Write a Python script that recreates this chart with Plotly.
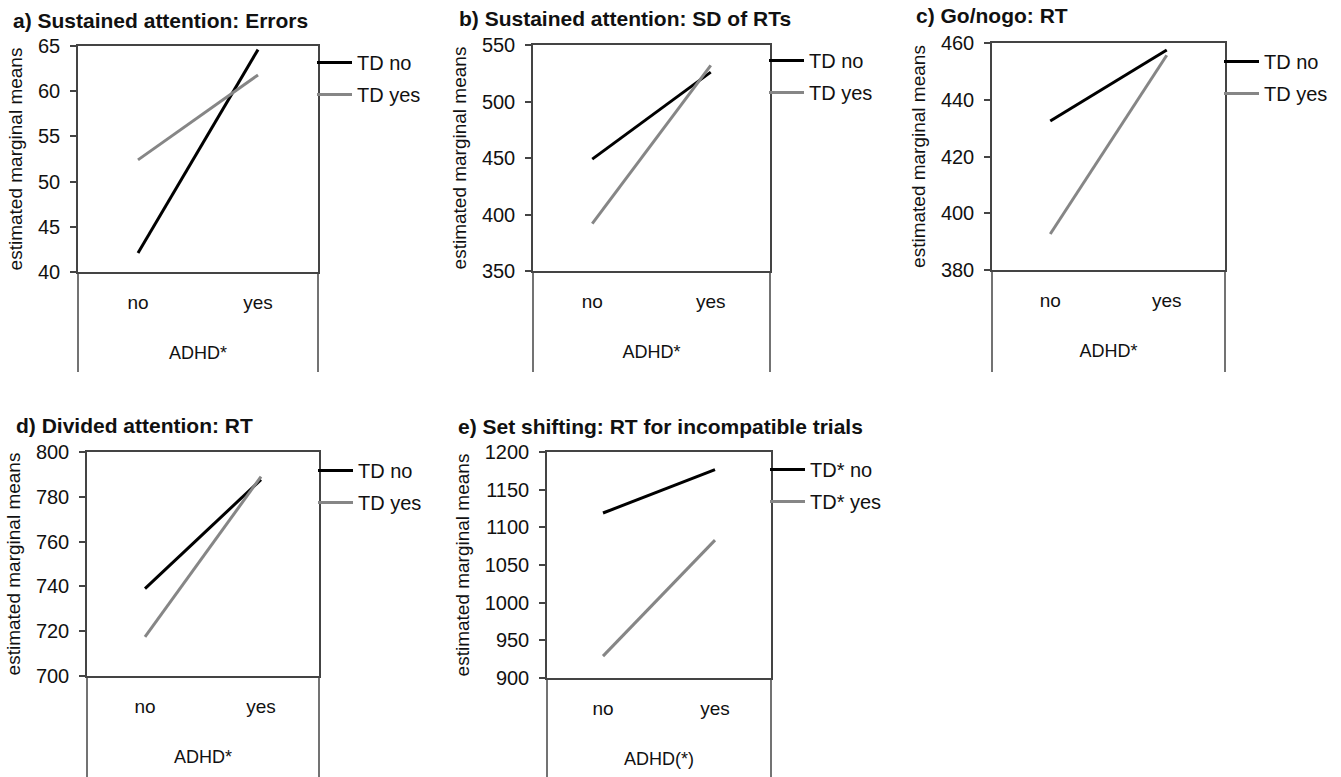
import plotly.graph_objects as go

W, H = 1341, 777

categories = ["no", "yes"]
panel_titles = [
    "a) Sustained attention: Errors",
    "b) Sustained attention: SD of RTs",
    "c) Go/nogo: RT",
    "d) Divided attention: RT",
    "e) Set shifting: RT for incompatible trials",
]
x_titles = ["ADHD*", "ADHD*", "ADHD*", "ADHD*", "ADHD(*)"]
y_title = "estimated marginal means"
series_names = [("TD no", "TD yes")] * 4 + [("TD* no", "TD* yes")]

a_td_no = [42.1, 64.6]
a_td_yes = [52.4, 61.8]
b_td_no = [449, 526]
b_td_yes = [392, 532]
c_td_no = [432.5, 457.5]
c_td_yes = [392.7, 455.7]
d_td_no = [739, 787.7]
d_td_yes = [717.5, 789]
e_td_no = [1119, 1176.5]
e_td_yes = [929, 1083]

td_no = [a_td_no, b_td_no, c_td_no, d_td_no, e_td_no]
td_yes = [a_td_yes, b_td_yes, c_td_yes, d_td_yes, e_td_yes]

y_ranges = [[40, 65], [350, 550], [380, 460], [700, 800], [900, 1200]]
y_dticks = [5, 50, 20, 20, 50]

# panel geometry in pixels: left, right, top, axis line, bottom of side lines,
# title x, title y, first legend item y
geom = [
    (78, 318, 46, 272, 372, 11, 20, 63),
    (533, 770, 45, 271, 372, 457, 19, 61),
    (992, 1225, 43, 270, 372, 914, 16, 62),
    (87, 319, 452, 676, 777, 14, 425, 471),
    (547, 771, 452, 678, 777, 456, 426, 470),
]

def px(x):
    return x / W

def py(y):
    return 1 - y / H

FONT = "Arial, 'Liberation Sans', sans-serif"
BLACK = "#000000"
GRAY = "#868686"
BOX = "#444444"
TXT = "#111111"

fig = go.Figure()
layout = dict(
    template="none",
    width=W, height=H, autosize=False,
    margin=dict(l=0, r=0, t=0, b=0, pad=0, autoexpand=False),
    paper_bgcolor="white", plot_bgcolor="white",
    font=dict(family=FONT, color=TXT),
    showlegend=True,
)
annotations = []
shapes = []

for i in range(5):
    L, R, T, A, B, tx, ty, ly = geom[i]
    n = "" if i == 0 else str(i + 1)
    xa = "x" + n
    ya = "y" + n
    leg = "legend" if i == 0 else "legend" + str(i + 1)
    names = series_names[i]
    fig.add_trace(go.Scatter(
        x=categories, y=td_no[i], mode="lines", name=names[0],
        line=dict(color=BLACK, width=3), xaxis=xa, yaxis=ya, legend=leg,
        legendgroup=f"g{i}a",
    ))
    fig.add_trace(go.Scatter(
        x=categories, y=td_yes[i], mode="lines", name=names[1],
        line=dict(color=GRAY, width=3), xaxis=xa, yaxis=ya, legend=leg,
        legendgroup=f"g{i}b",
    ))
    layout["xaxis" + n] = dict(
        domain=[px(L), px(R)], anchor=ya, type="category", automargin=False,
        range=[-0.5, 1.5], showgrid=False, zeroline=False,
        showline=True, linecolor=BOX, linewidth=1.5, mirror=True,
        ticks="", tickfont=dict(size=19, color=TXT, family=FONT),
        ticklabelstandoff=12,
        title=dict(text=x_titles[i], font=dict(size=18, color=TXT, family=FONT), standoff=35),
    )
    layout["yaxis" + n] = dict(
        domain=[py(A), py(T)], anchor=xa, range=y_ranges[i], dtick=y_dticks[i],
        automargin=False,
        showgrid=False, zeroline=False, showline=True, linecolor=BOX,
        linewidth=1.5, mirror=True, ticks="outside", ticklen=6,
        tickcolor=BOX, tickwidth=1.5,
        tickfont=dict(size=20, color=TXT, family=FONT),
        ticklabelstandoff=6,
        title=dict(text=y_title, font=dict(size=19, color=TXT, family=FONT), standoff=10),
    )
    layout[leg] = dict(
        x=px(R - 6), y=py(ly - 20), xanchor="left", yanchor="top",
        xref="paper", yref="paper",
        bgcolor="rgba(0,0,0,0)", borderwidth=0,
        font=dict(size=20, color=TXT, family=FONT),
        traceorder="grouped", tracegroupgap=3, itemwidth=35,
    )
    # side lines continuing below the axis line
    for xp in (L, R):
        shapes.append(dict(type="line", xref="paper", yref="paper",
                           x0=px(xp), x1=px(xp), y0=py(A), y1=py(B),
                           line=dict(color=BOX, width=1.5)))
    annotations.append(dict(
        text="<b>" + panel_titles[i] + "</b>", x=px(tx), y=py(ty),
        xref="paper", yref="paper", xanchor="left", yanchor="middle",
        showarrow=False, font=dict(size=21, color=TXT, family=FONT),
    ))

layout["annotations"] = annotations
layout["shapes"] = shapes
fig.update_layout(**layout)

post = (
    "var gd=document.getElementById('{plot_id}');"
    "var s=[document.documentElement.style, document.body.style];"
    "for(var k=0;k<s.length;k++){s[k].margin='0';s[k].padding='0';s[k].overflow='hidden';}"
    "gd.style.position='fixed';gd.style.top='0px';gd.style.left='0px';"
)
fig.write_html("out.html", config={"displayModeBar": False}, post_script=post)
